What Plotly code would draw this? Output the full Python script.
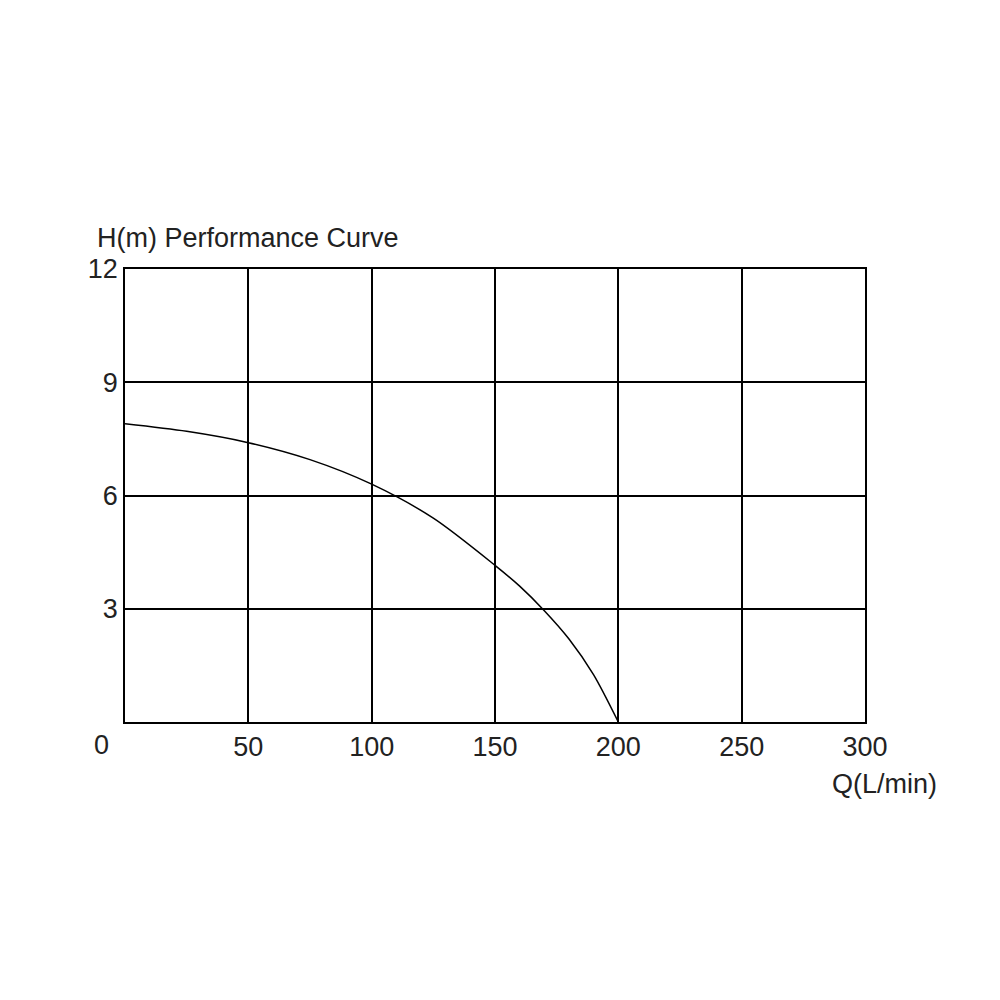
import plotly.graph_objects as go

flow = [0, 25, 50, 75, 100, 125, 150, 160, 170, 180, 190, 200]
head = [7.9, 7.7, 7.4, 6.95, 6.3, 5.4, 4.15, 3.6, 2.95, 2.2, 1.25, 0.0]
x_ticks = [50, 100, 150, 200, 250, 300]
y_ticks = [3, 6, 9, 12]

fig = go.Figure(go.Scatter(x=flow, y=head, mode="lines", line=dict(color="black", width=1.5, shape="spline", smoothing=0.8)))
font = dict(family="Liberation Sans, Arial", size=27, color="#222")
fig.update_layout(
    width=1000, height=1000, paper_bgcolor="white", plot_bgcolor="white",
    margin=dict(l=117, r=143, t=261, b=286), showlegend=False, font=font,
    xaxis=dict(range=[0, 300], tickvals=x_ticks, showgrid=True, gridcolor="black", gridwidth=1.5,
               showline=True, linecolor="black", linewidth=1.5, mirror=True, zeroline=False, ticks=""),
    yaxis=dict(range=[0, 12], tickvals=y_ticks, showgrid=True, gridcolor="black", gridwidth=1.5,
               showline=True, linecolor="black", linewidth=1.5, mirror=True, zeroline=False, ticks="", ticksuffix="  "),
    annotations=[
        dict(text="0", x=0, y=0, xref="x", yref="y", xanchor="right", yanchor="top", xshift=-14, yshift=-6, showarrow=False, font=font),
        dict(text="H(m) Performance Curve", x=-0.04, y=1.03, xref="paper", yref="paper", xanchor="left", yanchor="bottom", showarrow=False, font=font),
        dict(text="Q(L/min)", x=1.1, y=-0.1, xref="paper", yref="paper", xanchor="right", yanchor="top", showarrow=False, font=font),
    ],
)
fig.write_html("out.html")
